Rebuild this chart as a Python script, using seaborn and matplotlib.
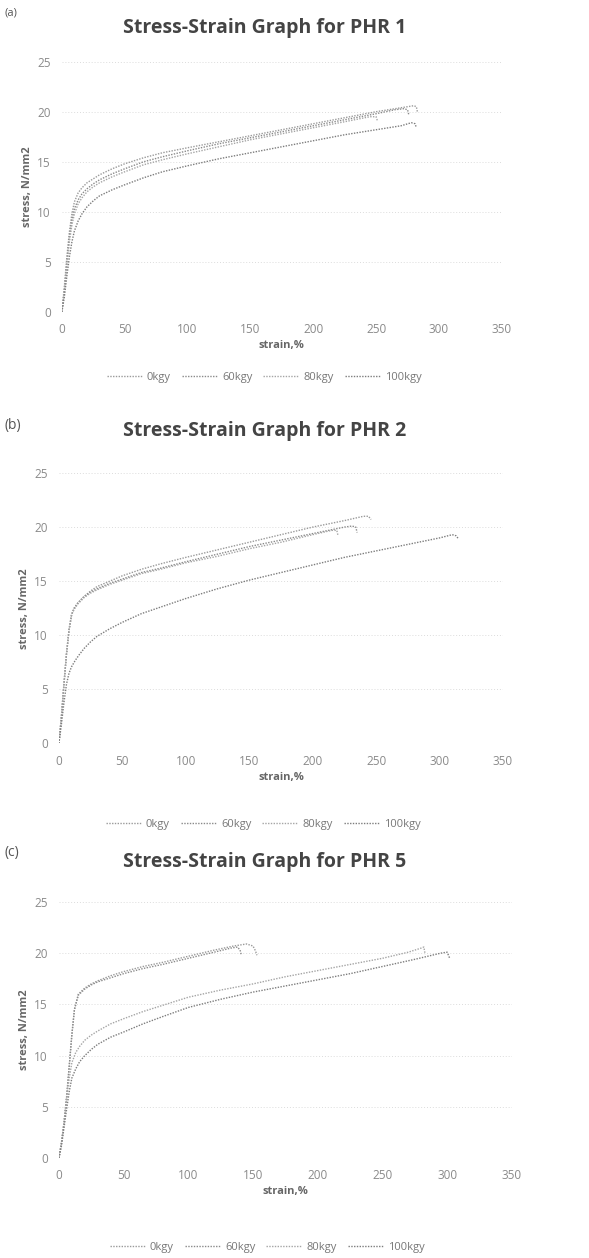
import numpy as np
import pandas as pd
import matplotlib.pyplot as plt
import seaborn as sns

sns.set_theme(style="white")
plt.rcParams['font.family'] = ['Open Sans', 'DejaVu Sans']

doses = ['0kgy', '60kgy', '80kgy', '100kgy']

# PHR 1
phr1_strain = {
    '0kgy':   [0, 2, 4, 6, 8, 10, 13, 16, 20, 25, 30, 40, 50, 65, 80, 100, 125, 150, 175, 200, 225, 250, 265, 275, 280, 282, 283],
    '60kgy':  [0, 2, 4, 6, 8, 10, 13, 16, 20, 25, 30, 40, 50, 65, 80, 100, 125, 150, 175, 200, 225, 250, 265, 272, 275, 276],
    '80kgy':  [0, 2, 4, 6, 8, 10, 13, 16, 20, 25, 30, 40, 50, 65, 80, 100, 125, 150, 175, 200, 225, 245, 250, 251],
    '100kgy': [0, 2, 4, 6, 8, 10, 13, 16, 20, 25, 30, 40, 50, 65, 80, 100, 125, 150, 175, 200, 225, 250, 270, 278, 281, 282],
}
phr1_stress = {
    '0kgy':   [0, 2.5, 5.5, 8.0, 9.8, 11.0, 11.9, 12.4, 12.9, 13.3, 13.7, 14.3, 14.8, 15.4, 15.9, 16.4, 17.0, 17.6, 18.2, 18.8, 19.4, 20.0, 20.3, 20.5, 20.6, 20.5, 19.9],
    '60kgy':  [0, 2.2, 5.0, 7.5, 9.2, 10.3, 11.2, 11.8, 12.3, 12.8, 13.2, 13.8, 14.3, 15.0, 15.5, 16.1, 16.8, 17.4, 18.0, 18.6, 19.2, 19.8, 20.2, 20.3, 20.2, 19.7],
    '80kgy':  [0, 2.0, 4.6, 7.0, 8.7, 9.8, 10.8, 11.4, 12.0, 12.5, 12.9, 13.5, 14.0, 14.7, 15.2, 15.8, 16.5, 17.2, 17.8, 18.4, 19.0, 19.5, 19.5, 19.1],
    '100kgy': [0, 1.5, 3.6, 5.5, 7.0, 8.1, 9.1, 9.8, 10.5, 11.1, 11.6, 12.2, 12.7, 13.4, 14.0, 14.6, 15.3, 15.9, 16.5, 17.1, 17.7, 18.2, 18.6, 18.9, 18.8, 18.4],
}

# PHR 2
phr2_strain = {
    '0kgy':   [0, 2, 4, 6, 8, 10, 12, 15, 20, 25, 30, 40, 50, 65, 80, 100, 125, 150, 175, 200, 225, 240, 244, 246],
    '60kgy':  [0, 2, 4, 6, 8, 10, 12, 15, 20, 25, 30, 40, 50, 65, 80, 100, 125, 150, 175, 200, 225, 231, 234, 235],
    '80kgy':  [0, 2, 4, 6, 8, 10, 12, 15, 20, 25, 30, 40, 50, 65, 80, 100, 125, 150, 175, 200, 215, 219, 220],
    '100kgy': [0, 2, 4, 6, 8, 10, 13, 16, 20, 25, 30, 40, 50, 65, 80, 100, 125, 150, 175, 200, 225, 250, 275, 300, 310, 313, 315],
}
phr2_stress = {
    '0kgy':   [0, 2.5, 5.5, 8.3, 10.5, 11.9, 12.5, 13.0, 13.6, 14.1, 14.5, 15.0, 15.5, 16.1, 16.6, 17.2, 17.9, 18.6, 19.3, 20.0, 20.6, 21.0, 21.0, 20.7],
    '60kgy':  [0, 2.5, 5.5, 8.3, 10.5, 11.9, 12.5, 13.0, 13.6, 14.0, 14.3, 14.8, 15.2, 15.8, 16.2, 16.8, 17.5, 18.2, 18.8, 19.4, 20.0, 20.1, 20.0, 19.5],
    '80kgy':  [0, 2.5, 5.5, 8.3, 10.5, 11.9, 12.4, 12.9, 13.5, 13.9, 14.2, 14.7, 15.1, 15.7, 16.1, 16.7, 17.3, 18.0, 18.6, 19.3, 19.7, 19.7, 19.2],
    '100kgy': [0, 1.8, 3.8, 5.5, 6.5, 7.1, 7.7, 8.2, 8.8, 9.4, 9.9, 10.6, 11.2, 12.0, 12.6, 13.4, 14.3, 15.1, 15.8, 16.5, 17.2, 17.8, 18.4, 19.0, 19.3, 19.2, 18.9],
}

# PHR 5
phr5_strain = {
    '0kgy':   [0, 2, 4, 6, 8, 10, 12, 15, 20, 25, 30, 40, 50, 65, 80, 100, 120, 135, 145, 150, 152, 153],
    '60kgy':  [0, 2, 4, 6, 8, 10, 12, 15, 20, 25, 30, 40, 50, 65, 80, 100, 120, 133, 138, 140, 141],
    '80kgy':  [0, 2, 4, 6, 8, 10, 13, 16, 20, 25, 30, 40, 50, 65, 80, 100, 125, 150, 175, 200, 225, 250, 270, 280, 282, 283],
    '100kgy': [0, 2, 4, 6, 8, 10, 13, 16, 20, 25, 30, 40, 50, 65, 80, 100, 125, 150, 175, 200, 225, 250, 275, 295, 300, 302],
}
phr5_stress = {
    '0kgy':   [0, 1.5, 3.5, 6.0, 9.0, 12.0, 14.5, 16.0, 16.6, 17.0, 17.3, 17.8, 18.2, 18.7, 19.1, 19.7, 20.3, 20.7, 20.9, 20.7, 20.2, 19.8],
    '60kgy':  [0, 1.5, 3.5, 6.0, 9.0, 12.0, 14.5, 15.9, 16.5, 16.9, 17.2, 17.6, 18.0, 18.5, 18.9, 19.5, 20.1, 20.5, 20.6, 20.3, 19.8],
    '80kgy':  [0, 1.5, 3.5, 5.8, 7.8, 9.3, 10.3, 10.9, 11.5, 12.0, 12.4, 13.1, 13.6, 14.3, 14.9, 15.7, 16.4, 17.0, 17.7, 18.3, 18.9, 19.5, 20.1, 20.5, 20.6, 19.9],
    '100kgy': [0, 1.2, 3.0, 4.8, 6.5, 7.8, 8.7, 9.4, 10.0, 10.6, 11.1, 11.8, 12.3, 13.1, 13.8, 14.7, 15.5, 16.2, 16.8, 17.4, 18.0, 18.7, 19.4, 20.0, 20.1, 19.5],
}

panels = [
    ('(a)', 'Stress-Strain Graph for PHR 1', phr1_strain, phr1_stress,
     [0.105, 0.752, 0.747, 0.199], 0.990, 0.978, 8, -0.26),
    ('(b)', 'Stress-Strain Graph for PHR 2', phr2_strain, phr2_stress,
     [0.100, 0.409, 0.754, 0.215], 0.662, 0.657, 10, -0.30),
    ('(c)', 'Stress-Strain Graph for PHR 5', phr5_strain, phr5_stress,
     [0.100, 0.0795, 0.769, 0.2035], 0.322, 0.315, 10, -0.35),
]

palette = {'0kgy': '#9a9a9a', '60kgy': '#8a8a8a', '80kgy': '#a5a5a5', '100kgy': '#7d7d7d'}

fig = plt.figure(figsize=(5.89, 12.58), dpi=100)

for label, title, strain, stress, rect, label_y, title_y, label_fs, leg_y in panels:
    rows = []
    for d in doses:
        for s, v in zip(strain[d], stress[d]):
            rows.append((d, s, v))
    df = pd.DataFrame(rows, columns=['dose', 'strain', 'stress'])

    ax = fig.add_axes(rect)
    sns.lineplot(data=df, x='strain', y='stress', hue='dose', hue_order=doses,
                 palette=palette, sort=False, estimator=None, linewidth=1.0,
                 ax=ax)
    for line in ax.get_lines():
        line.set_linestyle((0, (1, 1)))

    ax.set_xlim(0, 350)
    ax.set_ylim(0, 25)
    ax.set_xticks(np.arange(0, 351, 50))
    ax.set_yticks(np.arange(0, 26, 5))
    ax.grid(axis='y', color='#dcdcdc', linestyle=(0, (1, 2)), linewidth=0.7)
    for sp in ax.spines.values():
        sp.set_visible(False)
    ax.tick_params(axis='both', length=0, labelsize=8.5, labelcolor='#8a8a8a', pad=8)

    ax.set_xlabel('strain,%', fontsize=8, fontweight='bold', color='#666666', labelpad=3)
    ax.set_ylabel('stress, N/mm2', fontsize=8, fontweight='bold', color='#666666', labelpad=3)

    fig.text(0.45, title_y, title, ha='center', va='center',
             fontsize=14, fontweight='bold', color='#444444')
    fig.text(0.008, label_y, label, ha='left', va='center', fontsize=label_fs, color='#555555')

    handles, labels = ax.get_legend_handles_labels()
    for h in handles:
        h.set_linestyle((0, (1, 1)))
    ax.legend(handles, labels, loc='center', bbox_to_anchor=(0.46, leg_y), ncol=4,
              frameon=False, fontsize=8, labelcolor='#777777', handlelength=3.2,
              columnspacing=1.0, handletextpad=0.4)

fig.savefig('out.png', dpi=100)
